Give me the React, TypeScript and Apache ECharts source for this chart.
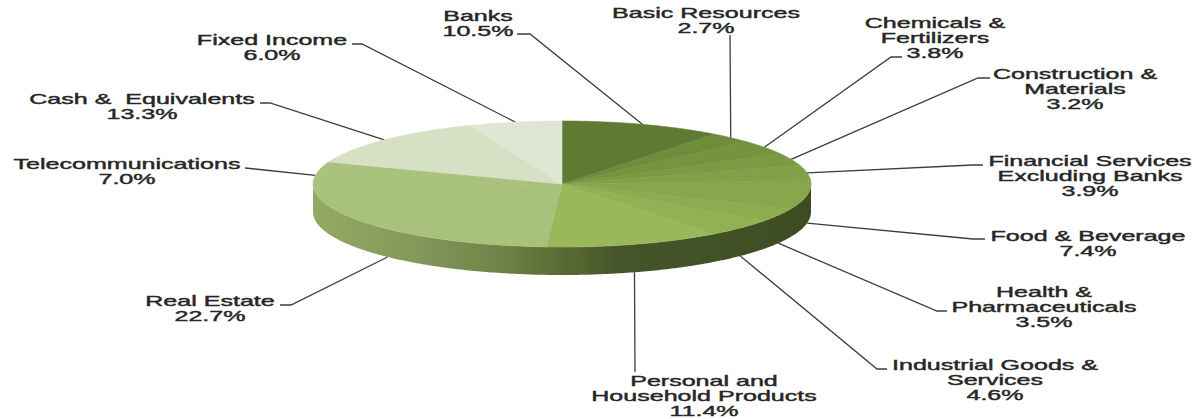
import React, { useEffect, useRef } from "react";
import * as echarts from "echarts";

const sectors = [
  "Banks",
  "Basic Resources",
  "Chemicals &\nFertilizers",
  "Construction &\nMaterials",
  "Financial Services\nExcluding Banks",
  "Food & Beverage",
  "Health &\nPharmaceuticals",
  "Industrial Goods &\nServices",
  "Personal and\nHousehold Products",
  "Real Estate",
  "Telecommunications",
  "Cash &  Equivalents",
  "Fixed Income",
];
const shares = [10.5, 2.7, 3.8, 3.2, 3.9, 7.4, 3.5, 4.6, 11.4, 22.7, 7.0, 13.3, 6.0];
const sliceColors = [
  "#5f7a33", "#6f8b3c", "#769340", "#7c9943", "#82a047", "#88a64b", "#8dac50",
  "#91b154", "#98b85a", "#a8c27b", "#a9c37e", "#d6e0c5", "#dfe6d4",
];

// Layout only
const CX = 562, CY = 184, RX = 249, RY = 63, DEPTH = 28;
const labelCenterX = [478, 706, 935, 1075, 1090, 1088, 1044, 995, 704, 210, 127, 142, 272];
const labelFirstY = [16, 13, 23, 74, 161, 236, 292, 365, 381, 301, 164, 99, 40];
const onSide = [0, 0, 0, 0, 0, 1, 1, 1, 1, 1, 0, 0, 0];
const leaderBends: number[][][] = [
  [[530, 34], [517, 34]],
  [[730, 35]],
  [[891, 57], [902, 57]],
  [[978, 78], [990, 78]],
  [[973, 165], [983, 165]],
  [[973, 239], [985, 239]],
  [[937, 311], [947, 311]],
  [[877, 369], [887, 369]],
  [[635, 372]],
  [[291, 305], [280, 305]],
  [[255, 169], [245, 168]],
  [[270, 103], [260, 103]],
  [[362, 44], [352, 44]],
];
const LINE_GAP = 15.3;
const TEXT_SCALE_X = 1.79;

const total = shares.reduce((a, b) => a + b, 0);
const startAngles = shares.map((_, i) =>
  shares.slice(0, i).reduce((a, b) => a + b, 0) / total * Math.PI * 2);
const rim = (a: number, dy = 0) => [CX + RX * Math.sin(a), CY - RY * Math.cos(a) + dy];
const arc = (a0: number, a1: number, dy = 0) => {
  const n = Math.max(2, Math.ceil((a1 - a0) / 0.012));
  const pts: number[][] = [];
  for (let k = 0; k <= n; k++) pts.push(rim(a0 + (a1 - a0) * k / n, dy));
  return pts;
};

const sideGradient = {
  type: "linear", x: CX - RX, y: 0, x2: CX + RX, y2: 0, global: true,
  colorStops: [
    { offset: 0, color: "#93aa62" },
    { offset: 0.2, color: "#84995a" },
    { offset: 0.38, color: "#6f8348" },
    { offset: 0.47, color: "#5d7137" },
    { offset: 0.62, color: "#45552a" },
    { offset: 1, color: "#3e4c22" },
  ],
};

export default function App() {
  const ref = useRef<HTMLDivElement>(null);
  useEffect(() => {
    document.body.style.margin = "0";
    const chart = echarts.init(ref.current!, null, { renderer: "svg" });
    chart.setOption({
      animation: false,
      backgroundColor: "#ffffff",
      series: [
        {
          type: "custom",
          coordinateSystem: "none",
          silent: true,
          z: 1,
          data: shares,
          renderItem: (p: any) => {
            const i = p.dataIndex;
            const mid = startAngles[i] + (shares[i] / total) * Math.PI;
            const start = rim(mid, onSide[i] ? DEPTH : 0);
            return {
              type: "polyline",
              shape: { points: [start, ...leaderBends[i]] },
              style: { stroke: "#3d3d3d", lineWidth: 1.3, fill: "none" },
            };
          },
        },
        {
          type: "custom",
          coordinateSystem: "none",
          silent: true,
          z: 2,
          data: [total],
          renderItem: () => ({
            type: "polygon",
            shape: {
              points: [
                ...arc(Math.PI / 2, (Math.PI * 3) / 2, 0),
                ...arc(Math.PI / 2, (Math.PI * 3) / 2, DEPTH).reverse(),
              ],
            },
            style: { fill: sideGradient },
          }),
        },
        {
          type: "custom",
          coordinateSystem: "none",
          silent: true,
          z: 3,
          data: shares,
          renderItem: (p: any) => {
            const i = p.dataIndex;
            const a0 = startAngles[i];
            const a1 = a0 + (shares[i] / total) * Math.PI * 2;
            return {
              type: "polygon",
              shape: { points: [[CX, CY], ...arc(a0, a1)] },
              style: { fill: sliceColors[i], stroke: sliceColors[i], lineWidth: 0.6 },
            };
          },
        },
        {
          type: "custom",
          coordinateSystem: "none",
          silent: true,
          z: 4,
          data: sectors,
          renderItem: (p: any) => {
            const i = p.dataIndex;
            const lines = [...sectors[i].split("\n"), shares[i].toFixed(1) + "%"];
            return {
              type: "group",
              children: lines.map((t, k) => ({
                type: "text",
                x: labelCenterX[i],
                y: labelFirstY[i] + k * LINE_GAP,
                scaleX: TEXT_SCALE_X,
                style: {
                  text: t,
                  fill: "#262626",
                  stroke: "#262626",
                  lineWidth: 0.4,
                  font: '14px "Liberation Sans", Arial, sans-serif',
                  textAlign: "center",
                  textVerticalAlign: "middle",
                },
              })),
            };
          },
        },
      ],
    });
    return () => chart.dispose();
  }, []);
  return (
    <div
      ref={ref}
      style={{ position: "absolute", left: 0, top: 0, width: 1198, height: 419, overflow: "hidden" }}
    />
  );
}
